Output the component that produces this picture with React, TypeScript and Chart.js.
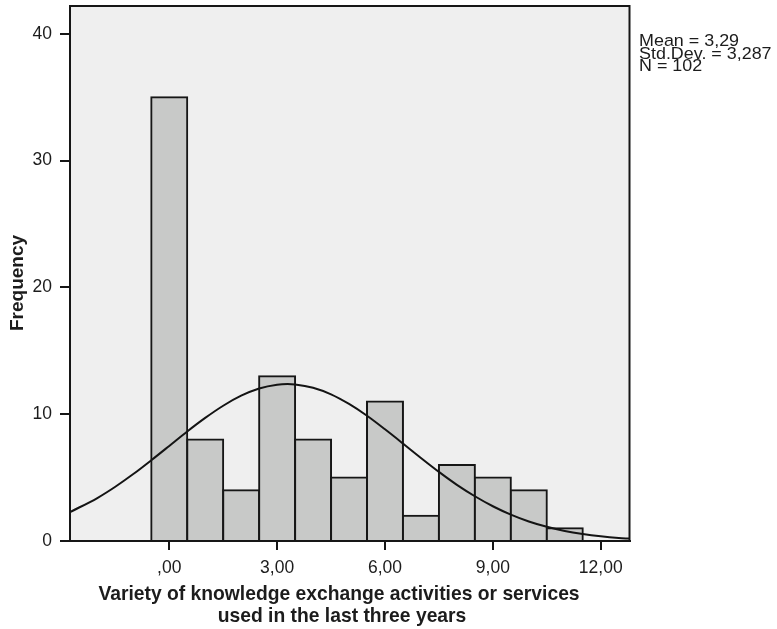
import React, { useEffect, useRef } from "react";
import { Chart, registerables } from "chart.js";

Chart.register(...registerables);

// Histogram bins (centre of each bin) and frequencies
const BIN_CENTERS = [0, 1, 2, 3, 4, 5, 6, 7, 8, 9, 10, 11];
const FREQUENCIES = [35, 8, 4, 13, 8, 5, 11, 2, 6, 5, 4, 1];

// Fitted normal curve
const CURVE_X = [-2.76, -2, -1.5, -1, -0.5, 0, 0.5, 1, 1.5, 2, 2.5, 3, 3.29, 3.5, 4, 4.5, 5, 5.5, 6, 6.5, 7, 7.5, 8, 8.5, 9, 9.5, 10, 10.5, 11, 11.5, 12, 12.5, 12.8];
const CURVE_Y = [2.28, 3.39, 4.28, 5.28, 6.37, 7.5, 8.64, 9.71, 10.67, 11.46, 12.03, 12.33, 12.38, 12.35, 12.09, 11.57, 10.81, 9.88, 8.81, 7.69, 6.55, 5.45, 4.43, 3.53, 2.74, 2.08, 1.54, 1.12, 0.79, 0.55, 0.37, 0.24, 0.19];

const X_TICKS = [0, 3, 6, 9, 12];
const X_TICK_LABELS = [",00", "3,00", "6,00", "9,00", "12,00"];
const Y_TICKS = [0, 10, 20, 30, 40];

const STATS_LINES = ["Mean = 3,29", "Std.Dev. = 3,287", "N = 102"];
const X_TITLE = ["Variety of knowledge exchange activities or services", "used in the last three years"];
const Y_TITLE = "Frequency";

const FONT = "'Liberation Sans', Arial, Helvetica, sans-serif";
const TEXT = "#1c1c1c";

const decor = {
  id: "decor",
  beforeDraw(chart: any) {
    const { ctx, chartArea: a } = chart;
    ctx.save();
    ctx.fillStyle = "#ffffff";
    ctx.fillRect(0, 0, chart.width, chart.height);
    ctx.fillStyle = "#efefef";
    ctx.fillRect(a.left, a.top, a.right - a.left, a.bottom - a.top);
    ctx.restore();
  },
  afterDraw(chart: any) {
    const { ctx, chartArea: a } = chart;
    ctx.save();
    ctx.strokeStyle = "#161616";
    ctx.lineWidth = 2;
    ctx.strokeRect(a.left, a.top, a.right - a.left, a.bottom - a.top);

    ctx.fillStyle = TEXT;
    // x title
    ctx.font = `bold 19.3px ${FONT}`;
    ctx.textAlign = "center";
    ctx.textBaseline = "alphabetic";
    ctx.fillText(X_TITLE[0], 339, 600);
    ctx.fillText(X_TITLE[1], 342, 621.5);

    // y title
    ctx.save();
    ctx.translate(22.5, 283);
    ctx.rotate(-Math.PI / 2);
    ctx.font = `bold 19px ${FONT}`;
    ctx.textAlign = "center";
    ctx.fillText(Y_TITLE, 0, 0);
    ctx.restore();

    // stats
    ctx.save();
    ctx.translate(639, 0);
    ctx.scale(1.1, 1);
    ctx.font = `16.3px ${FONT}`;
    ctx.textAlign = "left";
    STATS_LINES.forEach((s, i) => ctx.fillText(s, 0, 46 + i * 12.5));
    ctx.restore();

    ctx.restore();
  },
};

export default function App() {
  const ref = useRef<HTMLCanvasElement | null>(null);
  useEffect(() => {
    document.body.style.margin = "0";
    const canvas = ref.current;
    if (!canvas) return;
    const chart = new Chart(canvas, {
      type: "bar",
      data: {
        datasets: [
          {
            type: "line",
            data: CURVE_X.map((x, i) => ({ x, y: CURVE_Y[i] })),
            borderColor: "#141414",
            borderWidth: 2,
            pointRadius: 0,
            fill: false,
            cubicInterpolationMode: "monotone",
            order: 0,
          } as any,
          {
            type: "bar",
            data: BIN_CENTERS.map((x, i) => ({ x, y: FREQUENCIES[i] })),
            backgroundColor: "#c8c9c8",
            borderColor: "#161616",
            borderWidth: 2,
            inflateAmount: 1,
            barPercentage: 1,
            categoryPercentage: 1,
            order: 1,
          } as any,
        ],
      },
      options: {
        animation: false,
        responsive: false,
        devicePixelRatio: 1,
        layout: { padding: { left: 0, right: 147.5, top: 6, bottom: 0 } },
        plugins: { legend: { display: false }, tooltip: { enabled: false } },
        scales: {
          x: {
            type: "linear",
            min: -2.76,
            max: 12.8,
            offset: false,
            afterFit: (s: any) => { s.height = 88; s.paddingLeft = 0; s.paddingRight = 0; },
            afterBuildTicks: (s: any) => { s.ticks = X_TICKS.map((v) => ({ value: v })); },
            grid: { offset: false, drawOnChartArea: false, tickLength: 9, color: "#161616", lineWidth: 2 },
            border: { display: true, color: "#161616", width: 2 },
            ticks: {
              padding: 8,
              color: TEXT,
              font: { family: FONT, size: 17.5 },
              maxRotation: 0,
              autoSkip: false,
              callback: (v: any) => {
                const i = X_TICKS.indexOf(Number(v));
                return i >= 0 ? X_TICK_LABELS[i] : "";
              },
            },
          },
          y: {
            type: "linear",
            min: 0,
            max: 42.2,
            afterFit: (s: any) => { s.width = 70; s.paddingTop = 0; s.paddingBottom = 0; },
            afterBuildTicks: (s: any) => { s.ticks = Y_TICKS.map((v) => ({ value: v })); },
            grid: { drawOnChartArea: false, tickLength: 10, color: "#161616", lineWidth: 2 },
            border: { display: true, color: "#161616", width: 2 },
            ticks: {
              padding: 8,
              color: TEXT,
              font: { family: FONT, size: 17.5 },
              callback: (v: any) => String(v),
            },
          },
        },
      },
      plugins: [decor],
    });
    return () => chart.destroy();
  }, []);
  return <canvas ref={ref} width={777} height={629} style={{ display: "block" }} />;
}
